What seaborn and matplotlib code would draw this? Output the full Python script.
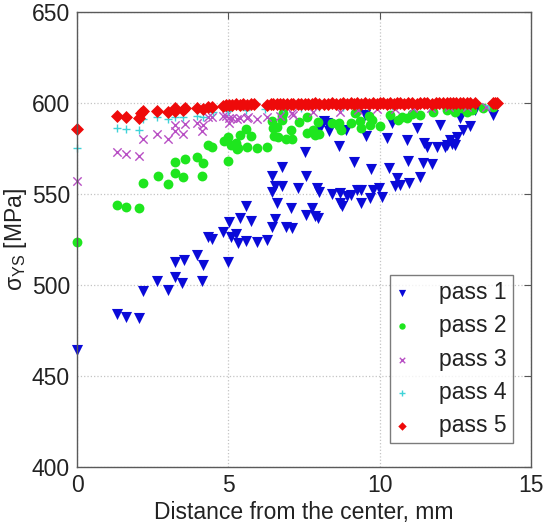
import matplotlib
matplotlib.use("Agg")
import matplotlib.pyplot as plt
import seaborn as sns
import pandas as pd

# Yield strength vs. distance from the center after each rolling pass
pass1_x = [0, 1.32, 1.62, 2.05, 2.18, 2.64, 3.00, 3.23, 3.47, 3.23, 3.53, 3.96, 4.16, 4.13,
           4.32, 4.46, 4.82, 4.98, 5.02, 5.08, 5.25, 5.31, 5.38, 5.58, 5.58, 5.74, 5.94, 6.27,
           6.44, 6.60, 6.53, 6.90, 7.10, 7.06, 7.56, 6.44, 6.77, 6.53, 6.77, 6.44, 7.29, 7.56,
           7.52, 7.85, 7.95, 7.76, 7.92, 7.99, 8.42, 8.68, 9.04, 9.37, 9.67, 9.37, 9.77, 9.97,
           10.07, 8.68, 8.75, 9.14, 9.70, 10.30, 10.56, 10.50, 10.66, 10.96, 11.32, 10.92, 11.42,
           11.72, 8.65, 8.32, 8.02, 8.88, 9.54, 10.23, 10.89, 11.22, 11.45, 11.58, 11.88, 12.15,
           12.24, 12.38, 12.48, 12.31, 12.57, 12.74, 13.00, 11.98, 12.64, 13.14, 13.73, 8.25,
           9.50, 10.40, 8.15, 7.99, 9.24, 8.91]
pass1_y = [464.3, 484.2, 482.5, 481.9, 496.8, 502.3, 497.3, 504.5, 501.2, 512.7, 513.8, 516.6,
           511.1, 502.3, 526.5, 525.4, 529.2, 512.7, 534.7, 526.5, 528.1, 523.2, 536.9, 524.3,
           543.5, 535.3, 523.7, 524.8, 532.0, 545.2, 536.4, 532.0, 531.4, 542.4, 538.6, 560.0,
           565.0, 554.5, 554.5, 551.2, 553.4, 560.0, 573.2, 538.0, 536.9, 542.4, 553.4, 551.2,
           550.1, 550.7, 549.6, 552.3, 548.0, 545.2, 552.3, 553.4, 548.5, 545.2, 543.5, 567.7,
           563.9, 564.4, 558.9, 554.5, 555.1, 556.2, 559.5, 568.3, 567.2, 566.6, 576.5, 584.8,
           586.4, 585.3, 582.0, 580.9, 579.8, 586.4, 578.2, 576.0, 576.0, 576.0, 577.1, 577.6,
           577.1, 579.8, 581.5, 585.3, 587.5, 588.1, 591.9, 596.3, 593.6, 589.2, 593.6, 589.2,
           590.3, 587.0, 552.3, 549.0]

pass2_x = [0, 1.32, 1.62, 2.05, 2.18, 2.67, 3.00, 3.23, 3.23, 3.50, 3.56, 3.96, 4.16, 4.13,
           4.32, 4.46, 4.85, 4.98, 4.98, 5.08, 5.25, 5.31, 5.38, 5.58, 5.61, 5.74, 5.94, 6.27,
           6.44, 6.60, 6.50, 6.63, 7.06, 6.90, 7.10, 7.33, 7.59, 7.59, 6.77, 6.47, 7.79, 7.85,
           7.95, 8.42, 8.65, 8.71, 9.04, 9.21, 9.34, 9.37, 9.67, 9.74, 10.00, 10.33, 10.59,
           10.89, 11.32, 11.75, 12.21, 12.48, 12.71, 13.04, 9.17, 9.64, 10.73, 11.06, 12.87,
           5.28, 6.80, 6.77, 7.99, 8.65, 13.40, 13.75]
pass2_y = [523.7, 544.1, 543.0, 542.4, 556.2, 560.0, 555.6, 567.7, 561.7, 559.5, 569.4, 570.5,
           567.2, 560.0, 577.1, 576.0, 579.3, 568.3, 581.5, 577.1, 578.2, 575.4, 582.6, 585.9,
           576.0, 582.0, 575.4, 576.0, 590.3, 587.0, 582.0, 581.5, 585.3, 580.4, 580.4, 589.7,
           592.5, 583.7, 593.0, 586.4, 585.3, 582.6, 589.7, 589.2, 587.5, 585.3, 589.2, 595.2,
           590.3, 586.4, 588.1, 590.8, 587.5, 593.6, 590.8, 591.9, 593.6, 595.2, 596.3, 595.2,
           597.4, 596.3, 594.7, 593.0, 592.5, 594.1, 595.2, 574.9, 594.7, 590.8, 583.1, 589.2,
           597.5, 598.0]

pass3_x = [0, 1.32, 1.62, 2.05, 2.18, 2.64, 3.00, 3.23, 3.23, 3.50, 3.56, 3.96, 4.16, 4.13,
           4.32, 4.46, 4.82, 5.02, 5.28, 5.61, 5.94, 5.02, 6.27, 6.70, 7.13, 4.92, 5.12, 5.38,
           5.64, 7.10, 7.79, 8.68, 9.30, 9.90, 10.50, 11.10, 11.70, 12.30, 12.90, 13.50]
pass3_y = [557.3, 573.2, 572.1, 571.0, 580.4, 583.1, 580.4, 588.1, 584.8, 583.1, 588.6, 589.2,
           588.1, 584.8, 592.5, 592.5, 593.0, 591.9, 591.4, 591.9, 591.4, 589.2, 592.5, 593.0,
           593.6, 593.0, 591.9, 591.9, 592.5, 594.7, 595.2, 595.2, 596.5, 597.0, 597.0, 597.5,
           597.5, 598.0, 598.0, 598.0]

pass4_x = [0, 1.32, 1.62, 2.05, 2.18, 2.64, 3.00, 3.23, 3.50, 3.96, 4.16, 4.50, 5.00, 5.60,
           6.20, 6.80, 7.40, 8.00, 8.80, 9.60, 10.40, 11.20, 12.00, 12.80, 13.60]
pass4_y = [575.4, 586.4, 585.9, 585.3, 591.4, 592.5, 591.4, 592.5, 592.5, 593.0, 592.5, 595.0,
           596.0, 596.5, 597.0, 597.5, 597.5, 598.0, 598.0, 598.5, 598.5, 598.5, 599.0, 599.0,
           599.0]

pass5_x = [0, 1.32, 1.62, 2.05, 2.11, 2.18, 2.64, 3.00, 3.23, 3.23, 3.50, 3.56, 3.96, 4.16,
           4.32, 4.46, 4.82, 4.92, 5.02, 5.12, 5.25, 5.38, 5.50, 5.61, 5.74, 5.85, 6.27, 6.40,
           6.47, 6.60, 6.70, 6.80, 6.93, 7.06, 7.13, 7.29, 7.40, 7.52, 7.62, 7.76, 7.85, 7.99,
           8.15, 8.28, 8.42, 8.55, 8.68, 8.80, 8.91, 9.04, 9.14, 9.24, 9.37, 9.50, 9.64, 9.77,
           9.90, 10.00, 10.10, 10.23, 10.33, 10.46, 10.56, 10.66, 10.80, 10.92, 11.06, 11.22,
           11.32, 11.45, 11.58, 11.72, 11.85, 11.95, 12.08, 12.21, 12.31, 12.41, 12.51, 12.64,
           12.74, 12.87, 13.00, 13.14, 13.73, 13.80, 13.88]
pass5_y = [585.9, 593.0, 592.5, 591.9, 594.7, 595.8, 595.8, 595.2, 595.8, 597.4, 596.3, 597.4,
           597.4, 596.9, 598.0, 598.0, 598.6, 599.0, 599.3, 599.0, 599.5, 599.2, 599.6, 599.3,
           599.6, 599.4, 599.3, 599.7, 599.4, 599.6, 599.8, 599.5, 599.7, 599.5, 599.8, 599.6,
           599.8, 599.5, 599.8, 599.7, 599.9, 599.6, 599.8, 599.7, 599.9, 599.7, 599.8, 599.9,
           599.7, 599.9, 599.8, 599.9, 599.7, 599.9, 599.8, 599.9, 599.8, 599.9, 599.9, 599.8,
           599.9, 599.8, 599.9, 599.9, 599.8, 599.9, 599.9, 599.8, 599.9, 599.9, 599.9, 599.8,
           599.9, 599.9, 599.9, 599.9, 599.9, 599.9, 599.9, 599.9, 599.9, 599.9, 599.9, 599.9,
           599.9, 599.9, 599.9]

labels = ["pass 1", "pass 2", "pass 3", "pass 4", "pass 5"]
xs = [pass1_x, pass2_x, pass3_x, pass4_x, pass5_x]
ys = [pass1_y, pass2_y, pass3_y, pass4_y, pass5_y]

x_ticks = [0, 5, 10, 15]
y_ticks = [400, 450, 500, 550, 600, 650]

frames = [pd.DataFrame({"x": x, "y": y, "pass": lab}) for x, y, lab in zip(xs, ys, labels)]
df = pd.concat(frames, ignore_index=True)

sns.set_style("white")
plt.rcParams["font.family"] = ["Liberation Sans", "DejaVu Sans"]
plt.rcParams["mathtext.fontset"] = "custom"
plt.rcParams["mathtext.rm"] = "Liberation Sans"
plt.rcParams["mathtext.it"] = "Liberation Sans:italic"

styles = {
    "pass 1": dict(marker="v", color="#0a0ad8", s=64, linewidth=0),
    "pass 2": dict(marker="o", color="#1ee61e", s=50, linewidth=0),
    "pass 3": dict(marker="x", color="#b84fc4", s=36, linewidth=1.0),
    "pass 4": dict(marker="+", color="#3fd3d8", s=40, linewidth=1.0),
    "pass 5": dict(marker="D", color="#ee0a0a", s=44, linewidth=0),
}

fig = plt.figure(figsize=(5.45, 5.29), dpi=100)
ax = fig.add_axes([0.1413, 0.1172, 0.8330, 0.8594])

for lab in labels:
    sub = df[df["pass"] == lab]
    sns.scatterplot(data=sub, x="x", y="y", ax=ax, label=lab, clip_on=False, **styles[lab])

ax.set_xlim(0, 15)
ax.set_ylim(400, 650)
ax.set_xticks(x_ticks)
ax.set_yticks(y_ticks)
ax.grid(True, linestyle=":", color="#c4c4c4", linewidth=0.9)
ax.set_axisbelow(True)
ax.tick_params(direction="in", length=5, width=0.8, color="#555555", labelcolor="#222222",
               top=True, right=True, labelsize=16.5, pad=5)
for sp in ax.spines.values():
    sp.set_color("#5a5a5a")
    sp.set_linewidth(1.0)

ax.set_xlabel("Distance from the center, mm", fontsize=16.5, labelpad=3, color="#222222")
ax.set_ylabel(r"$\mathrm{\sigma_{YS}}$ [MPa]", fontsize=16.5, labelpad=2, color="#222222")

leg = ax.legend(loc="lower right", bbox_to_anchor=(0.960, 0.053), borderaxespad=0,
                fontsize=16.5, frameon=True, fancybox=False, edgecolor="#5a5a5a",
                markerscale=0.65, handletextpad=1.4, labelspacing=0.45,
                borderpad=0.25, handlelength=0.5)
leg.get_frame().set_linewidth(1.0)
for t in leg.get_texts():
    t.set_color("#222222")

fig.savefig("out.png", dpi=100)
